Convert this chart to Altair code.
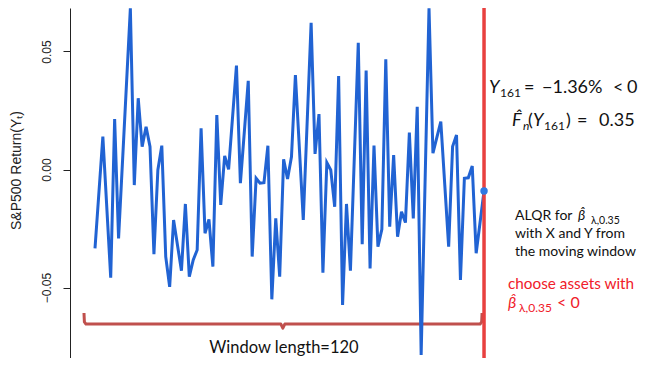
import altair as alt
import pandas as pd

# ---- data (time index within the window, S&P500 return) ----
t = [0, 2, 4, 5, 6, 9, 10, 11, 12, 13, 14, 15, 16, 17, 18, 19, 20, 22, 23, 24,
     25, 26, 27, 28, 29, 30, 31, 32, 33, 34, 36, 37, 39, 40, 41, 42, 43, 44, 45, 46,
     47, 48, 49, 50, 51, 53, 55, 56, 57, 58, 59, 60, 61, 62, 63, 64, 65, 67, 68, 69,
     70, 71, 72, 73, 74, 75, 76, 77, 78, 79, 80, 81, 82, 83, 85, 86, 88, 90, 91, 92,
     93, 94, 95, 96, 97, 99]
ret = [-0.0334, 0.0139, -0.0458, 0.0214, -0.0292, 0.0683, -0.0066, 0.0302, 0.0097, 0.0181,
       0.0097, -0.0359, -0.0002, 0.0101, -0.0369, -0.0497, -0.0214, -0.0429, -0.0146, -0.0454,
       -0.0383, -0.0341, 0.0175, -0.0270, -0.0211, -0.0412, 0.0231, -0.0150, 0.0058, 0.0001,
       0.0440, -0.0058, 0.0376, -0.0369, -0.0037, -0.0058, -0.0056, 0.0101, -0.0550, -0.0207,
       -0.0454, 0.0043, -0.0040, 0.0054, 0.0400, -0.0214, 0.0622, 0.0066, 0.0235, -0.0437,
       0.0029, -0.0002, -0.0158, 0.0396, -0.0574, -0.0146, -0.0429, 0.0537, -0.0317, 0.0419,
       -0.0419, 0.0101, -0.0327, -0.0253, 0.0467, -0.0242, 0.0061, -0.0285, -0.0179, -0.0225,
       0.0156, -0.0207, 0.0266, -0.0786, 0.0683, 0.0069, 0.0203, -0.0327, 0.0097, 0.0146,
       -0.0468, -0.0037, -0.0035, 0.0015, -0.0355, -0.0091]

# brace under the window (annotation shape, in data units)
brace_t = [-2.8, -2.7, -2.3, 47.3, 47.8, 48.3, 98.0, 98.4, 98.5]
brace_v = [-0.0608, -0.0646, -0.0655, -0.0655, -0.0672, -0.0655, -0.0655, -0.0646, -0.0608]

y_ticks = [-0.05, 0.0, 0.05]
Y_DOMAIN = [-0.07987, 0.06843]
X_DOMAIN = [-6.36, 139.2]

series = pd.DataFrame({"t": t, "ret": ret})
last = series.tail(1)
brace = pd.DataFrame({"t": brace_t, "ret": brace_v, "o": list(range(len(brace_t)))})

x_enc = alt.X("t:Q", scale=alt.Scale(domain=X_DOMAIN, nice=False, zero=False), axis=None)
y_axis = alt.Axis(
    values=y_ticks, format=".2f", grid=False,
    labelAngle=-90, labelAlign="center", labelBaseline="middle", labelPadding=17,
    labelFont="Liberation Sans", labelFontSize=12, labelColor="#222222",
    tickSize=7, tickColor="#222222", domainColor="#222222",
    title="S&P500 Return(Yₜ)", titleFont="Liberation Sans", titleFontSize=14,
    titleFontWeight="normal", titleColor="#222222", titleX=-54, titleY=162,
    titleAlign="center", titleBaseline="middle",
)
y_enc = alt.Y("ret:Q", scale=alt.Scale(domain=Y_DOMAIN, nice=False, zero=False), axis=y_axis)
y_plain = alt.Y("ret:Q", scale=alt.Scale(domain=Y_DOMAIN, nice=False, zero=False))

brace_layer = alt.Chart(brace).mark_line(color="#c0504d", strokeWidth=3, strokeJoin="round").encode(
    x=x_enc, y=y_plain, order="o:O")
line_layer = alt.Chart(series).mark_line(color="#2163d3", strokeWidth=3).encode(x=x_enc, y=y_enc)
rule_layer = alt.Chart(last).mark_rule(color="#e8403f", strokeWidth=3.5).encode(x=x_enc)
dot_layer = alt.Chart(last).mark_circle(color="#2f79e3", opacity=1, size=55).encode(x=x_enc, y=y_plain)

OX, OY = 70, 8  # plot origin on the page


def txt(s, x, y, size, color="#111111", italic=False, align="left", font="Lato"):
    return alt.Chart(pd.DataFrame({"k": [0]})).mark_text(
        text=s, align=align, baseline="alphabetic", fontSize=size, color=color, font=font,
        fontStyle="italic" if italic else "normal",
    ).encode(x=alt.value(x - OX), y=alt.value(y - OY))


RED = "#f0202a"
texts = [
    # Y_161 = -1.36% < 0
    txt("Y", 489, 93, 18, italic=True),
    txt("161", 500, 97, 12),
    txt("=", 524, 93, 18),
    txt("−1.36%", 542, 93, 18),
    txt("<", 613, 93, 18),
    txt("0", 627, 93, 18),
    # F_n(Y_161) = 0.35
    txt("F̂", 512, 126, 18, italic=True),
    txt("n", 523, 130, 12, italic=True),
    txt("(", 528, 126, 18),
    txt("Y", 533, 126, 18, italic=True),
    txt("161", 544, 130, 12),
    txt(")", 566, 126, 18),
    txt("=", 577, 126, 18),
    txt("0.35", 599, 126, 18),
    # ALQR text
    txt("ALQR for", 515, 220, 14),
    txt("β̂", 578, 220, 14, italic=True),
    txt("λ,0.35", 591, 224, 10.5),
    txt("with X and Y from", 515, 238, 14),
    txt("the moving window", 515, 256, 14),
    # red
    txt("choose assets with", 508, 289, 15.3, color=RED),
    txt("β̂", 508, 308, 16, color=RED, italic=True),
    txt("λ,0.35", 519, 312, 12, color=RED),
    txt("< 0", 557, 308, 16, color=RED),
    # window length
    txt("Window length=120", 284, 353, 16.5, align="center"),
]

chart = alt.layer(brace_layer, line_layer, rule_layer, dot_layer, *texts).properties(
    width=572, height=350,
    autosize=alt.AutoSizeParams(type="none"),
    padding={"left": 62, "top": 0, "right": 0, "bottom": 0},
).configure_view(stroke=None)

chart.save("out.html", embed_options={"renderer": "svg", "actions": False})
